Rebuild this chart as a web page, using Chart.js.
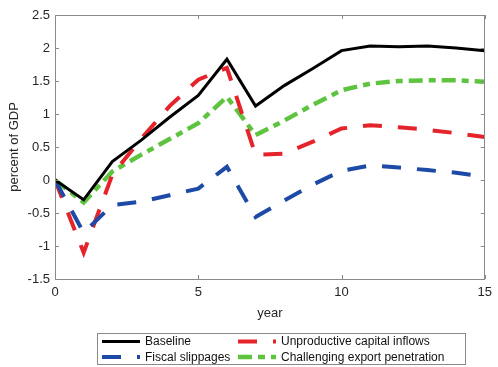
<!DOCTYPE html>
<html>
<head>
<meta charset="utf-8">
<script src="https://cdn.jsdelivr.net/npm/chart.js@4/dist/chart.umd.min.js"></script>
<style>
  html, body { margin: 0; padding: 0; background: #fff; }
  #wrap { width: 498px; height: 367px; position: relative; }
</style>
</head>
<body>
<div id="wrap"><canvas id="c"></canvas></div>
<script>
// Horizon (years) and simulated paths, percent of GDP
const years = [0, 1, 2, 3, 4, 5, 6, 7, 8, 9, 10, 11, 12, 13, 14, 15];
const baseline = [0, -0.30, 0.28, 0.60, 0.95, 1.28, 1.83, 1.12, 1.43, 1.69, 1.96, 2.03, 2.02, 2.03, 2.00, 1.96];
const fiscalSlippages = [0, -0.80, -0.38, -0.33, -0.23, -0.13, 0.20, -0.56, -0.31, -0.07, 0.14, 0.22, 0.19, 0.15, 0.11, 0.05];
const unproductiveInflows = [0, -1.10, 0.08, 0.62, 1.12, 1.52, 1.70, 0.38, 0.40, 0.58, 0.78, 0.83, 0.80, 0.76, 0.71, 0.65];
const exportPenetration = [0, -0.34, 0.13, 0.38, 0.62, 0.86, 1.26, 0.68, 0.90, 1.14, 1.36, 1.46, 1.50, 1.51, 1.51, 1.49];

const xTicks = [0, 5, 10, 15];
const yTicks = [-1.5, -1, -0.5, 0, 0.5, 1, 1.5, 2, 2.5];

const seriesNames = ['Baseline', 'Fiscal slippages', 'Unproductive capital inflows', 'Challenging export penetration'];

const COLORS = { black: '#000000', blue: '#1c4aa6', red: '#e5232a', green: '#5ec43f' };
const FONT = '"Liberation Sans", Arial, Helvetica, sans-serif';

const toPoints = vals => vals.map((v, i) => ({ x: years[i], y: v }));

const styles = [
  { color: COLORS.black, width: 3, dash: [] },
  { color: COLORS.blue, width: 4, dash: [19, 16] },
  { color: COLORS.red, width: 4, dash: [19, 16] },
  { color: COLORS.green, width: 4.5, dash: [14, 6, 7, 6] }
];
const seriesValues = [baseline, fiscalSlippages, unproductiveInflows, exportPenetration];

const datasets = seriesValues.map((vals, i) => ({
  label: seriesNames[i],
  data: toPoints(vals),
  borderColor: styles[i].color,
  borderWidth: styles[i].width,
  borderDash: styles[i].dash,
  borderCapStyle: 'butt',
  borderJoinStyle: 'miter',
  pointRadius: 0,
  tension: 0,
  fill: false
}));

// Box around the plot with inward tick marks on all four sides
const framePlugin = {
  id: 'frame',
  afterDatasetsDraw(chart) {
    const { ctx, chartArea: a, scales: { x, y } } = chart;
    ctx.save();
    ctx.strokeStyle = '#8a8a8a';
    ctx.lineWidth = 1;
    ctx.setLineDash([]);
    ctx.strokeRect(Math.round(a.left) + 0.5, Math.round(a.top) + 0.5,
                   Math.round(a.right - a.left) - 1, Math.round(a.bottom - a.top));
    const len = 4;
    ctx.beginPath();
    xTicks.forEach(t => {
      const px = Math.round(x.getPixelForValue(t)) + 0.5;
      ctx.moveTo(px, a.bottom); ctx.lineTo(px, a.bottom - len);
      ctx.moveTo(px, a.top); ctx.lineTo(px, a.top + len);
    });
    yTicks.forEach(t => {
      const py = Math.round(y.getPixelForValue(t)) + 0.5;
      ctx.moveTo(a.left, py); ctx.lineTo(a.left + len, py);
      ctx.moveTo(a.right, py); ctx.lineTo(a.right - len, py);
    });
    ctx.stroke();
    ctx.restore();
  }
};

// Two-column legend box under the axis title
const legendPlugin = {
  id: 'boxLegend',
  afterDraw(chart) {
    const { ctx } = chart;
    const box = { left: 97, top: 333, right: 465, bottom: 364 };
    ctx.save();
    ctx.fillStyle = '#ffffff';
    ctx.fillRect(box.left, box.top, box.right - box.left, box.bottom - box.top);
    ctx.strokeStyle = '#8a8a8a';
    ctx.lineWidth = 1;
    ctx.strokeRect(box.left + 0.5, box.top + 0.5, box.right - box.left, box.bottom - box.top);
    const cols = [102, 238];
    const rows = [341.5, 357];
    const order = [[0, 0, 0], [1, 0, 1], [2, 1, 0], [3, 1, 1]]; // series, column, row
    order.forEach(([s, c, r]) => {
      const st = styles[s];
      const x0 = cols[c], yy = rows[r];
      ctx.save();
      ctx.beginPath();
      ctx.rect(x0, yy - 5, 38, 10);
      ctx.clip();
      ctx.strokeStyle = st.color;
      ctx.lineWidth = st.width;
      ctx.lineCap = 'butt';
      ctx.setLineDash(st.dash);
      ctx.beginPath();
      ctx.moveTo(x0, yy);
      ctx.lineTo(x0 + 40, yy);
      ctx.stroke();
      ctx.restore();
      ctx.fillStyle = '#111111';
      ctx.font = '12px ' + FONT;
      ctx.textBaseline = 'middle';
      ctx.textAlign = 'left';
      ctx.fillText(seriesNames[s], x0 + 43, yy + 0.5);
    });
    ctx.restore();
  }
};

new Chart(document.getElementById('c'), {
  type: 'line',
  data: { datasets },
  options: {
    responsive: true,
    maintainAspectRatio: false,
    animation: false,
    layout: { padding: { left: 0, right: 8, top: 15, bottom: 47 } },
    plugins: { legend: { display: false }, tooltip: { enabled: false } },
    scales: {
      x: {
        type: 'linear',
        min: 0, max: 15,
        afterFit: s => { s.height = 41; },
        afterBuildTicks: s => { s.ticks = xTicks.map(v => ({ value: v })); },
        grid: { display: false, drawTicks: false },
        border: { display: false },
        ticks: { padding: 6, color: '#262626', font: { family: FONT, size: 13 }, maxRotation: 0,
                 callback: v => String(v) },
        title: { display: true, text: 'year', color: '#262626', font: { family: FONT, size: 13 }, padding: { top: 0, bottom: -1 } }
      },
      y: {
        type: 'linear',
        min: -1.5, max: 2.5,
        afterFit: s => { s.width = 55; },
        afterBuildTicks: s => { s.ticks = yTicks.map(v => ({ value: v })); },
        grid: { display: false, drawTicks: false },
        border: { display: false },
        ticks: { padding: 5, color: '#262626', font: { family: FONT, size: 13 },
                 callback: v => String(v) },
        title: { display: true, text: 'percent of GDP', color: '#262626', font: { family: FONT, size: 13 }, padding: { top: 7, bottom: 0 } }
      }
    }
  },
  plugins: [framePlugin, legendPlugin]
});
</script>
</body>
</html>
